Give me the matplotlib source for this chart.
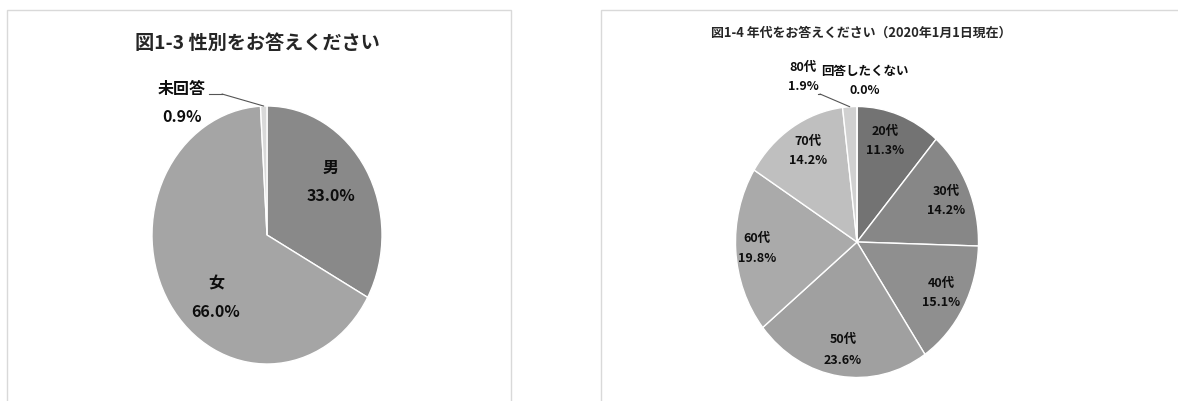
import numpy as np
import matplotlib
matplotlib.use("Agg")
import matplotlib.pyplot as plt
from matplotlib.patches import Rectangle

plt.rcParams['font.family'] = ['Noto Sans CJK JP', 'DejaVu Sans']

# ----------------------------------------------------------------------------------------------------------------------
gender_labels = ['男', '女', '未回答']
gender_values = [33.0, 66.0, 0.9]
gender_colors = ['#898989', '#a5a5a5', '#d9d9d9']

age_labels = ['20代', '30代', '40代', '50代', '60代', '70代', '80代', '回答したくない']
age_values = [11.3, 14.2, 15.1, 23.6, 19.8, 14.2, 1.9, 0.0]
age_colors = ['#737373', '#878787', '#8f8f8f', '#a0a0a0', '#aaaaaa', '#bfbfbf', '#d0d0d0', '#e0e0e0']

title_left = '図1-3 性別をお答えください'
title_right = '図1-4 年代をお答えください（2020年1月1日現在）'

W, H = 1178, 401
# label positions (pixels) for each slice
gender_pos = [(331, 182), (216, 298), (182, 103)]
age_pos = [(885, 141), (946, 201), (941, 293), (843, 350), (757, 249), (808, 151), (803, 77), (865, 81)]
# ----------------------------------------------------------------------------------------------------------------------
def fx(x):
    return x / W

def fy(y):
    return 1 - y / H

def pie_axes(fig, cx, cy, rx, ry):
    ax = fig.add_axes([fx(cx - rx), fy(cy + ry), 2 * rx / W, 2 * ry / H])
    ax.axis('off')
    return ax

def draw_pie(ax, values, colors):
    wedges, _ = ax.pie(values, colors=colors, startangle=90, counterclock=False, radius=1,
                       wedgeprops=dict(edgecolor='white', linewidth=1.0))
    ax.set_xlim(-1, 1)
    ax.set_ylim(-1, 1)
    ax.set_aspect('auto')
    return wedges

def mid_point(w):
    a = np.deg2rad((w.theta1 + w.theta2) / 2)
    return np.cos(a), np.sin(a)

def put_labels(fig, labels, values, pos, size, gap):
    for lab, v, (x, y) in zip(labels, values, pos):
        fig.text(fx(x), fy(y - gap / 2), lab, ha='center', va='center', fontsize=size, fontweight='bold', color='#0d0d0d')
        fig.text(fx(x), fy(y + gap / 2), f'{v:.1f}%', ha='center', va='center', fontsize=size, fontweight='bold', color='#0d0d0d')

def leader(fig, ax, w, p0, p1):
    px, py = mid_point(w)
    fig.add_artist(plt.Line2D([fx(p0[0]), fx(p1[0])], [fy(p0[1]), fy(p1[1])], transform=fig.transFigure,
                              color='#555555', lw=0.8))
    ax.annotate('', xy=(px, py), xycoords='data', xytext=(fx(p1[0]), fy(p1[1])), textcoords='figure fraction',
                arrowprops=dict(arrowstyle='-', color='#555555', lw=0.8, shrinkA=0, shrinkB=0))

# ----------------------------------------------------------------------------------------------------------------------
fig = plt.figure(figsize=(W / 100, H / 100), dpi=100)
fig.patch.set_facecolor('white')

fig.add_artist(Rectangle((fx(7), fy(420)), fx(504), fy(10) - fy(420), transform=fig.transFigure,
                         facecolor='none', edgecolor='#d9d9d9', linewidth=1.0))
fig.add_artist(Rectangle((fx(601), fy(420)), fx(600), fy(10) - fy(420), transform=fig.transFigure,
                         facecolor='none', edgecolor='#d9d9d9', linewidth=1.0))

fig.text(fx(257), fy(43), title_left, ha='center', va='center', fontsize=13.8, fontweight='bold', color='#262626')
fig.text(fx(861), fy(33), title_right, ha='center', va='center', fontsize=9.3, fontweight='bold', color='#262626')

ax1 = pie_axes(fig, 267, 235, 115, 129)
w1 = draw_pie(ax1, gender_values, gender_colors)
put_labels(fig, gender_labels, gender_values, gender_pos, 11.5, 28)
leader(fig, ax1, w1[2], (209, 94), (222, 94))

ax2 = pie_axes(fig, 857, 242, 121.5, 135.5)
w2 = draw_pie(ax2, age_values, age_colors)
put_labels(fig, age_labels, age_values, age_pos, 9, 20)
leader(fig, ax2, w2[6], (818, 94), (820, 94))

fig.savefig('out.png', dpi=100)
